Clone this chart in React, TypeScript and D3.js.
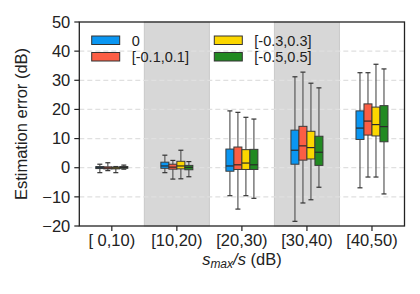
import React from 'react';
import * as d3 from 'd3';

// x categories (SNR range of s_max/s)
const categories = ['[ 0,10)', '[10,20)', '[20,30)', '[30,40)', '[40,50)'];
// which categories get the grey band behind them
const shaded = ['[10,20)', '[30,40)'];

const seriesNames = ['0', '[-0.1,0.1]', '[-0.3,0.3]', '[-0.5,0.5]'];
const seriesColors = ['#0a96f2', '#fb5e45', '#fcd700', '#228a22'];

// per category: [whisker low, q1, median, q3, whisker high]
const boxesZero = [
  [-1.7, -0.3, 0.0, 0.4, 1.2],
  [-1.7, -0.2, 0.6, 1.9, 4.3],
  [-9.6, -1.2, 0.6, 6.4, 19.5],
  [-18.4, 1.2, 6.0, 12.9, 31.2],
  [-6.9, 9.7, 13.6, 19.5, 32.6],
];
const boxesTenth = [
  [-1.0, -0.4, -0.1, 0.3, 1.7],
  [-3.9, -0.5, 0.2, 1.2, 2.5],
  [-14.2, -0.6, 1.0, 7.1, 19.0],
  [-12.1, 2.6, 7.5, 14.2, 32.8],
  [-3.2, 11.2, 16.0, 21.9, 32.6],
];
const boxesThird = [
  [-1.7, -0.4, -0.1, 0.2, 0.4],
  [-3.8, -0.4, 0.6, 2.2, 6.0],
  [-9.6, -0.6, 1.6, 6.2, 17.3],
  [-11.0, 3.0, 6.9, 12.5, 29.0],
  [-3.2, 10.9, 14.8, 20.8, 35.5],
];
const boxesHalf = [
  [-0.5, -0.2, 0.1, 0.4, 0.9],
  [-3.1, -0.7, 0.1, 0.8, 2.1],
  [-10.5, -0.6, 1.0, 6.3, 16.7],
  [-6.7, 0.8, 5.3, 10.8, 27.4],
  [-9.0, 8.9, 14.1, 21.3, 33.9],
];
const allBoxes = [boxesZero, boxesTenth, boxesThird, boxesHalf];

const yTicks = [-20, -10, 0, 10, 20, 30, 40, 50];

const W = 420;
const H = 294;
const margin = { top: 22, right: 15.5, bottom: 68, left: 79.3 };
const font = 'Liberation Sans, Arial, sans-serif';

export default function App() {
  const innerW = W - margin.left - margin.right;
  const innerH = H - margin.top - margin.bottom;

  const x = d3.scaleBand<string>().domain(categories).range([0, innerW]).padding(0);
  const inner = d3.scaleBand<string>().domain(seriesNames).range([-16, 16]).padding(0);
  const y = d3.scaleLinear().domain([-20, 50]).range([innerH, 0]);
  const fmt = d3.format('d');
  const bw = inner.bandwidth();

  return (
    <svg width={W} height={H} style={{ position: 'absolute', left: 0, top: 0 }} fontFamily={font}>
      <g transform={`translate(${margin.left},${margin.top})`}>
        {shaded.map((c) => (
          <rect
            key={c}
            x={x(c)!}
            y={0}
            width={x.bandwidth()}
            height={innerH}
            fill="#d7d7d7"
            stroke="#c9c9c9"
            strokeWidth={1}
          />
        ))}
        {yTicks.slice(1, -1).map((t) => (
          <line
            key={t}
            x1={0}
            x2={innerW}
            y1={y(t)}
            y2={y(t)}
            stroke="#e0e0e0"
            strokeWidth={1.3}
            strokeDasharray="5,3"
          />
        ))}

        {categories.map((c, ci) => {
          const cx = x(c)! + x.bandwidth() / 2;
          return seriesNames.map((s, si) => {
            const [lo, q1, med, q3, hi] = allBoxes[si][ci];
            const bx = cx + inner(s)!;
            const mid = bx + bw / 2;
            return (
              <g key={c + s}>
                <line x1={mid} x2={mid} y1={y(hi)} y2={y(q3)} stroke="#5a5a5a" strokeWidth={1.2} />
                <line x1={mid} x2={mid} y1={y(q1)} y2={y(lo)} stroke="#5a5a5a" strokeWidth={1.2} />
                <line x1={mid - 2.5} x2={mid + 2.5} y1={y(hi)} y2={y(hi)} stroke="#333" strokeWidth={1.2} />
                <line x1={mid - 2.5} x2={mid + 2.5} y1={y(lo)} y2={y(lo)} stroke="#333" strokeWidth={1.2} />
                <rect
                  x={bx}
                  y={y(q3)}
                  width={bw}
                  height={Math.max(y(q1) - y(q3), 0.5)}
                  fill={seriesColors[si]}
                  stroke="#3a3a3a"
                  strokeWidth={1}
                />
                <line x1={bx} x2={bx + bw} y1={y(med)} y2={y(med)} stroke="#2a2a2a" strokeWidth={1.2} />
              </g>
            );
          });
        })}

        {/* legend */}
        {seriesNames.map((s, i) => {
          const col = Math.floor(i / 2);
          const row = i % 2;
          const lx = 12.4 + col * 122.6;
          const ly = 14 + row * 16.5;
          return (
            <g key={s} transform={`translate(${lx},${ly})`}>
              <rect x={0} y={0} width={28} height={8.5} fill={seriesColors[i]} stroke="#333" strokeWidth={1} />
              <text x={40} y={9.5} fontSize={14.5} fill="#222">
                {s}
              </text>
            </g>
          );
        })}

        <rect x={0} y={0} width={innerW} height={innerH} fill="none" stroke="#222" strokeWidth={1.3} />

        {/* y axis */}
        {yTicks.map((t) => (
          <g key={t} transform={`translate(0,${y(t)})`}>
            <line x1={-5} x2={0} stroke="#222" strokeWidth={1.2} />
            <text x={-9} dy="0.35em" textAnchor="end" fontSize={16.5} fill="#222">
              {fmt(t).replace('-', '\u2212')}
            </text>
          </g>
        ))}
        <text
          transform={`translate(${-52},${innerH / 2}) rotate(-90)`}
          textAnchor="middle"
          fontSize={16.5}
          fill="#222"
        >
          Estimation error (dB)
        </text>

        {/* x axis */}
        {categories.map((c) => {
          const cx = x(c)! + x.bandwidth() / 2;
          return (
            <g key={c} transform={`translate(${cx},${innerH})`}>
              <line y1={0} y2={5} stroke="#222" strokeWidth={1.2} />
              <text y={20} textAnchor="middle" fontSize={16.5} fill="#222" style={{ whiteSpace: 'pre' }}>
                {c}
              </text>
            </g>
          );
        })}
        <text x={innerW / 2} y={innerH + 39} textAnchor="middle" fontSize={16.5} fill="#222">
          <tspan fontStyle="italic">s</tspan>
          <tspan fontStyle="italic" fontSize={12} dy={3}>
            max
          </tspan>
          <tspan fontStyle="italic" dy={-3}>
            /s
          </tspan>
          <tspan> (dB)</tspan>
        </text>
      </g>
    </svg>
  );
}
